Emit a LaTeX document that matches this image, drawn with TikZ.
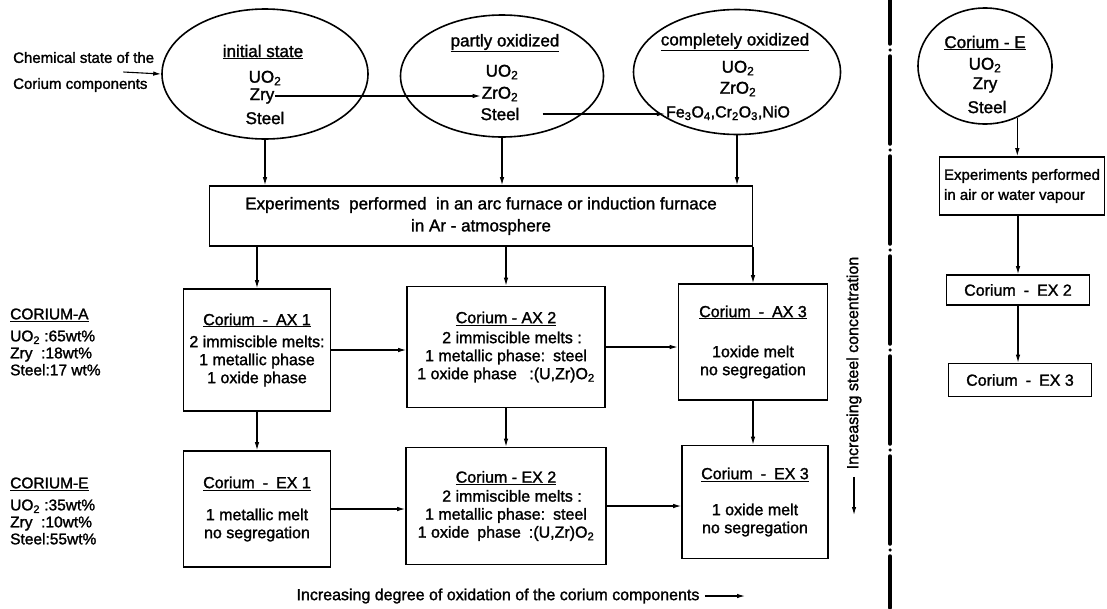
\documentclass[tikz,border=0pt]{standalone}
\usepackage{fontspec}
\setmainfont{Liberation Sans}[FakeBold=1.5]
\usetikzlibrary{arrows.meta,positioning,shapes.geometric}

\begin{document}
\begin{tikzpicture}[
		x=1pt, y=-1pt,
		font=\fontsize{16}{18}\selectfont,
		oval/.style={draw, ellipse, line width=1.6pt, inner sep=0pt},
		entry/.style={inner sep=1pt, font=\fontsize{17}{19}\selectfont},
		box/.style={draw, line width=1.6pt, align=center, inner sep=3pt},
		lbl/.style={align=left, inner sep=0pt, font=\fontsize{15.5}{17}\selectfont},
		arrow/.style={-{Latex[length=8pt,width=4.5pt]}, line width=1.1pt},
		divider/.style={line width=3.5pt, line cap=round,
			dash pattern=on 88pt off 6pt on 0pt off 6pt, dash phase=44pt},
		]
		
		\useasboundingbox (0,0) rectangle (1107,608);
		
		% chemical states of the corium components
		\node[lbl, anchor=west, font=\fontsize{15}{26}\selectfont, inner sep=1pt] (chem) at (12,72)
		{Chemical state of the\\Corium components};
		
		\node[oval, minimum width=206pt, minimum height=130pt] (init) at (265,74) {};
		\node[entry] (init-t) at (263,52) {\underline{initial state}};
		\node[entry] (init-u) at (265,78) {UO\textsubscript{2}};
		\node[entry] (init-z) at (262,96) {Zry};
		\node[entry] (init-s) at (265,118) {Steel};
		
		\node[oval, minimum width=203pt, minimum height=122pt] (part) at (502,76) {};
		\node[entry] (part-t) at (505,43) {\underline{partly oxidized}};
		\node[entry] (part-u) at (502,72) {UO\textsubscript{2}};
		\node[entry] (part-z) at (500,94) {ZrO\textsubscript{2}};
		\node[entry] (part-s) at (500,114) {Steel};
		
		\node[oval, minimum width=207pt, minimum height=125pt] (full) at (737,72) {};
		\node[entry] (full-t) at (735,42) {\underline{completely oxidized}};
		\node[entry] (full-u) at (738,68) {UO\textsubscript{2}};
		\node[entry] (full-z) at (738,89) {ZrO\textsubscript{2}};
		\node[entry, font=\fontsize{16}{18}\selectfont] (full-f) at (728,113)
		{Fe\textsubscript{3}O\textsubscript{4},Cr\textsubscript{2}O\textsubscript{3},NiO};
		
		\draw[arrow] ([xshift=-32pt]chem.east) -- (init.west);
		\draw[arrow] (init-z.east) -- (init-z.east -| part-z.west);
		\draw[arrow, shorten <=22pt] (part-s.east) -- (part-s.east -| full-f.west);
		
		% furnace experiments
		\node[box, minimum width=543pt, minimum height=60pt, font=\fontsize{17}{22}\selectfont] (furn) at (481,216)
		{Experiments\ \ performed\ \ in an arc furnace or induction furnace\\in Ar - atmosphere};
		
		\draw[arrow] (init.south) -- (init.south |- furn.north);
		\draw[arrow] (part.south) -- (part.south |- furn.north);
		\draw[arrow] (full.south) -- (full.south |- furn.north);
		
		% corium AX
		\node[box, minimum width=147pt, minimum height=122pt] (ax1) at (257,350)
		{\underline{Corium\enspace-\enspace AX 1}\\[4pt]2 immiscible melts:\\1 metallic phase\\1 oxide phase\hspace{14pt}};
		\node[box, minimum width=198pt, minimum height=121pt] (ax2) at (506,347)
		{\underline{Corium - AX 2}\\[2pt]\hspace{12pt}2 immiscible melts :\\1 metallic phase:\enspace steel\\1 oxide phase\enspace\ :(U,Zr)O\textsubscript{2}};
		\node[box, minimum width=149pt, minimum height=116pt] (ax3) at (753,342)
		{\underline{Corium\enspace-\enspace AX 3}\\[22pt]1oxide melt\\no segregation};
		
		% corium EX
		\node[box, minimum width=147pt, minimum height=116pt] (ex1) at (257,509)
		{\underline{Corium\enspace-\enspace EX 1}\\[14pt]1 metallic melt\hspace{8pt}\\no segregation};
		\node[box, minimum width=200pt, minimum height=117pt] (ex2) at (506,506)
		{\underline{Corium - EX 2}\\[1pt]\hspace{12pt}2 immiscible melts :\\1 metallic phase:\enspace steel\\1 oxide\enspace phase\enspace :(U,Zr)O\textsubscript{2}};
		\node[box, minimum width=146pt, minimum height=113pt] (ex3) at (755,502)
		{\underline{Corium\enspace-\enspace EX 3}\\[18pt]1 oxide melt\\no segregation};
		
		\draw[arrow] (furn.south -| ax1.north) -- (ax1.north);
		\draw[arrow] (furn.south -| ax2.north) -- (ax2.north);
		\draw[arrow] (furn.south -| ax3.north) -- (ax3.north);
		\draw[arrow] (ax1.east) -- (ax1.east -| ax2.west);
		\draw[arrow] (ax2.east) -- (ax2.east -| ax3.west);
		\draw[arrow] (ax1.south) -- (ax1.south |- ex1.north);
		\draw[arrow] (ax2.south) -- (ax2.south |- ex2.north);
		\draw[arrow] (ax3.south) -- (ax3.south |- ex3.north);
		\draw[arrow] (ex1.east) -- (ex1.east -| ex2.west);
		\draw[arrow] (ex2.east) -- (ex2.east -| ex3.west);
		
		% compositions
		\node[lbl, anchor=west] (mixA) at (10,342)
		{\underline{CORIUM-A}\\[5pt]UO\textsubscript{2} :65wt\%\\Zry\ \ :18wt\%\\Steel:17 wt\%};
		\node[lbl, anchor=west] (mixE) at (10,511)
		{\underline{CORIUM-E}\\[5pt]UO\textsubscript{2} :35wt\%\\Zry\ \ :10wt\%\\Steel:55wt\%};
		
		% trends
		\node (oxtxt) at (498,596) {Increasing degree of oxidation of the corium components};
		\coordinate (oxend) at (745,596);
		\draw[arrow] ([xshift=2pt]oxtxt.east) -- (oxend);
		
		\node[rotate=90] (sttxt) at (854,363) {Increasing steel concentration};
		\coordinate (stend) at (854,515);
		\draw[arrow] ([yshift=-4pt]sttxt.west) -- (stend);
		
		\draw[divider] (890,0) -- (890,608);
		
		% oxidizing atmosphere
		\node[oval, minimum width=134pt, minimum height=116pt] (corE) at (985,66) {};
		\node[entry] (corE-t) at (985,43) {\underline{Corium - E}};
		\node[entry] (corE-u) at (985,65) {UO\textsubscript{2}};
		\node[entry] (corE-z) at (985,85) {Zry};
		\node[entry] (corE-s) at (987,107) {Steel};
		
		\node[box, align=left, minimum width=165pt, minimum height=58pt, font=\fontsize{15}{20}\selectfont] (expE) at (1022,186)
		{Experiments performed\\in air or water vapour};
		\node[box, minimum width=143pt, minimum height=30pt] (ex2r) at (1018,290) {Corium\enspace-\enspace EX 2};
		\node[box, minimum width=143pt, minimum height=33pt] (ex3r) at (1020,380) {Corium\enspace-\enspace EX 3};
		
		\draw[arrow] (corE.-58) -- (corE.-58 |- expE.north);
		\draw[arrow] (expE.south -| ex2r.north) -- (ex2r.north);
		\draw[arrow] (ex2r.south) -- (ex2r.south |- ex3r.north);
		
	\end{tikzpicture}
\end{document}
